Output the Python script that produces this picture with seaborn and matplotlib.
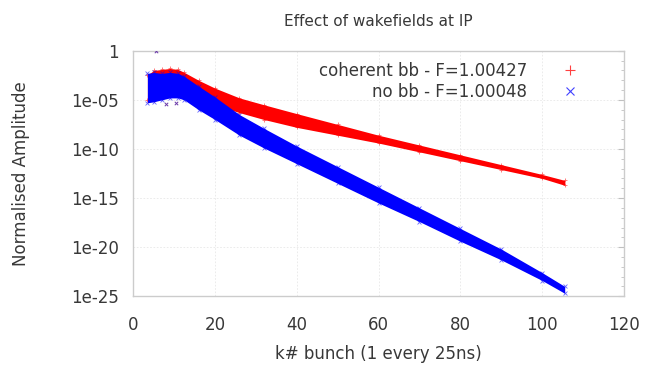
import numpy as np
import matplotlib
matplotlib.use("Agg")
import matplotlib.pyplot as plt
import seaborn as sns
import pandas as pd

# envelope sample positions (bunch number) and band edges in decades below 1
k_env = [3.5, 5, 7, 9, 11, 12.5, 16, 20, 26, 32, 40, 50, 60, 70, 80, 90, 100, 105.5]
red_top = [2.5, 2.0, 1.9, 1.8, 1.9, 2.2, 3.0, 3.8, 4.8, 5.5, 6.4, 7.5, 8.6, 9.6, 10.6, 11.6, 12.6, 13.2]
red_bot = [5.0, 5.0, 4.8, 4.6, 4.5, 4.2, 4.8, 5.5, 6.3, 7.0, 7.8, 8.6, 9.4, 10.3, 11.2, 12.1, 13.0, 13.7]
blue_top = [2.3, 2.2, 2.3, 2.2, 2.3, 2.6, 3.6, 4.7, 6.5, 7.9, 9.7, 11.8, 13.9, 16.0, 18.1, 20.2, 22.6, 24.0]
blue_bot = [5.3, 5.2, 5.0, 4.8, 4.8, 5.0, 6.0, 7.0, 8.6, 9.9, 11.5, 13.5, 15.5, 17.4, 19.4, 21.3, 23.4, 24.7]

# a few isolated outliers
out_k = [5.5, 8.0, 10.5]
out_d = [0.05, 5.4, 5.3]

red_label = "coherent bb - F=1.00427"
blue_label = "no bb - F=1.00048"
title = "Effect of wakefields at IP"
xlabel = "k# bunch (1 every 25ns)"
ylabel = "Normalised Amplitude"
xticks = [0, 20, 40, 60, 80, 100, 120]
ytick_exp = [0, -5, -10, -15, -20, -25]
ytick_labels = ["1", "1e-05", "1e-10", "1e-15", "1e-20", "1e-25"]

sns.set_style("white")
plt.rcParams['font.family'] = ['DejaVu Sans']
txt = "#383838"

fig = plt.figure(figsize=(6.46, 3.68), dpi=100)
ax = fig.add_axes([0.206, 0.195, 0.760, 0.667])

k = np.array(k_env)
def amp(d):
    return 10.0 ** (-np.array(d, dtype=float))

ax.fill_between(k, amp(red_top), amp(red_bot), color="#ff0000", lw=0, zorder=2)
df_r = pd.DataFrame({"k": np.concatenate([k, k]), "a": np.concatenate([amp(red_top), amp(red_bot)])})
sns.scatterplot(data=df_r, x="k", y="a", marker="+", color="#ff0000", s=10, linewidth=0.6,
                alpha=0.6, ax=ax, zorder=3)

ax.fill_between(k, amp(blue_top), amp(blue_bot), color="#0000ff", lw=0, zorder=4)
df_b = pd.DataFrame({"k": np.concatenate([k, k]), "a": np.concatenate([amp(blue_top), amp(blue_bot)])})
sns.scatterplot(data=df_b, x="k", y="a", marker="x", color="#0000ff", s=8, linewidth=0.6,
                alpha=0.6, ax=ax, zorder=5)

ax.scatter(out_k, amp(out_d), marker="x", color="#6a3aa8", s=6, linewidth=0.7, zorder=6)

# legend proxies
ax.plot([], [], ls="none", marker="+", color="#ff4040", ms=7, mew=0.8, label=red_label)
ax.plot([], [], ls="none", marker="x", color="#4040ff", ms=6, mew=0.8, label=blue_label)
leg = ax.legend(loc="upper right", bbox_to_anchor=(0.945, 0.995), frameon=False, markerfirst=False,
                fontsize=12, handletextpad=1.6, labelspacing=0.15, borderaxespad=0.2)
for t in leg.get_texts():
    t.set_color(txt)
    t.set_ha("right")

ax.set_yscale("log")
ax.set_xlim(0, 120)
ax.set_ylim(1e-25, 1)
ax.set_xticks(xticks)
ax.set_xticklabels([str(v) for v in xticks])
ax.set_yticks([10.0 ** e for e in ytick_exp])
ax.set_yticklabels(ytick_labels)
ax.yaxis.set_minor_locator(matplotlib.ticker.FixedLocator([10.0 ** (-e) for e in range(26)]))
ax.yaxis.set_minor_formatter(matplotlib.ticker.NullFormatter())

ax.grid(True, which="major", color="#e8e8e8", lw=0.6, ls=(0, (2, 2)))
for s in ax.spines.values():
    s.set_color("#cccccc")
    s.set_linewidth(1.0)
ax.tick_params(axis="both", which="both", direction="in", colors="#c0c0c0", labelcolor=txt,
               labelsize=12, length=4, top=False, right=True)
ax.tick_params(axis="y", which="minor", length=2)
ax.tick_params(axis="x", pad=14)
ax.tick_params(axis="y", pad=10)

ax.set_title(title, fontsize=11, color=txt, pad=18)
ax.set_xlabel(xlabel, fontsize=12, color=txt, labelpad=8)
ax.set_ylabel(ylabel, fontsize=12, color=txt)
ax.yaxis.set_label_coords(-0.21, 0.5)

fig.savefig("out.png", dpi=100)
